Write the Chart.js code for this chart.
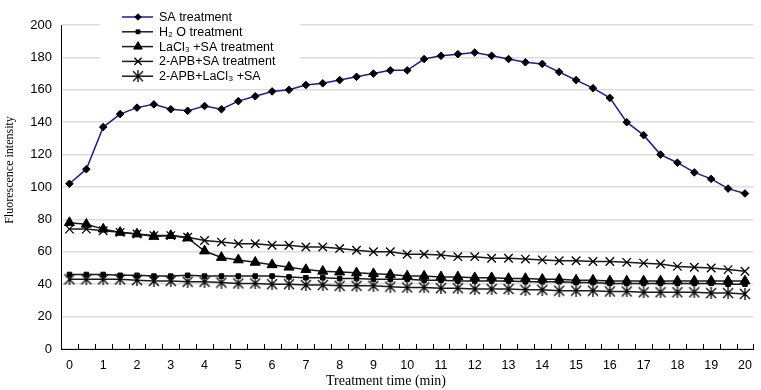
<!DOCTYPE html>
<html><head><meta charset="utf-8">
<script src="https://cdn.jsdelivr.net/npm/chart.js@4.4.1/dist/chart.umd.min.js"></script>
<style>html,body{margin:0;padding:0;background:#fff;}#wrap{width:761px;height:390px;position:relative;}</style>
</head><body><div id="wrap"><canvas id="c" width="761" height="390"></canvas></div>
<script>
// Categories: treatment time (min)
const times = [0,0.5,1,1.5,2,2.5,3,3.5,4,4.5,5,5.5,6,6.5,7,7.5,8,8.5,9,9.5,10,10.5,11,11.5,12,12.5,13,13.5,14,14.5,15,15.5,16,16.5,17,17.5,18,18.5,19,19.5,20];

const seriesNames = ["SA treatment","H\u2082 O treatment","LaCl\u2083 +SA treatment","2-APB+SA treatment","2-APB+LaCl\u2083 +SA"];
const xTitle = "Treatment time (min)";
const yTitle = "Fluorescence intensity";

const saTreatment = [102,111,137,145,149,151,148,147,150,148,153,156,159,160,163,164,166,168,170,172,172,179,181,182,183,181,179,177,176,171,166,161,155,140,132,120,115,109,105,99,96];
const h2oTreatment = [46,46,46,45.5,45.5,45,45,45.5,45,45,45,45,45,44.5,44,44,43.5,43.5,43,43,43,42.5,42.5,42,42,42,42,41.5,41.5,41.5,41,41,40.5,40.5,40.5,40.5,40.5,40.5,40.5,40,40];
const laclSaTreatment = [78,77,74,72,71,69.5,70,68.5,60.5,56.5,55,53.5,52,50.5,49,48,47.5,47,46.5,46,45,45,44.5,44.5,44,44,43.5,43.5,43,43,42.5,42.5,42,42,42,42,42,42,42,42,42];
const apbSaTreatment = [74,74,73,72,71,70,70,69,67,66,65,65,64,64,63,63,62,61,60,60,58.5,58.5,58,57,57,56,56,55.5,55,54.5,54.5,54,54,53.5,53,52.5,51,50.5,50,49,48];
const apbLaclSa = [43,43,43,43,42.5,42,42,41.5,41.5,41,40.5,40.5,40,40,39.5,39.5,39,39,39,38.5,38,38,37.5,37.5,37,37,37,36.5,36.5,36,36,36,35.5,35.5,35,35,35,35,34.5,34.5,34];

const yTicksMin = 0, yTicksMax = 200, yTickStep = 20;

function makeAsterisk(){
  const c = document.createElement('canvas');
  c.width = 12; c.height = 12;
  const g = c.getContext('2d');
  g.strokeStyle = '#000'; g.lineWidth = 1.3;
  g.beginPath();
  g.moveTo(1,1); g.lineTo(11,11);
  g.moveTo(11,1); g.lineTo(1,11);
  g.moveTo(6,0); g.lineTo(6,12);
  g.stroke();
  return c;
}
const asteriskImg = makeAsterisk();

const lineFont = 'Liberation Sans, Arial, sans-serif';
const serifFont = 'Liberation Serif, Times New Roman, serif';

const datasets = [
  {label: seriesNames[0], data: saTreatment, borderColor:'#1c1c9c', backgroundColor:'#000', pointStyle:'rectRot', pointRadius:3.8, pointBackgroundColor:'#000', pointBorderColor:'#000', pointBorderWidth:1, borderWidth:1.5},
  {label: seriesNames[1], data: h2oTreatment, borderColor:'#1a1a1a', backgroundColor:'#000', pointStyle:'rect', pointRadius:3.2, pointBackgroundColor:'#000', pointBorderColor:'#000', pointBorderWidth:1, borderWidth:1.5},
  {label: seriesNames[2], data: laclSaTreatment, borderColor:'#1a1a1a', backgroundColor:'#000', pointStyle:'triangle', pointRadius:5.8, pointBackgroundColor:'#000', pointBorderColor:'#000', pointBorderWidth:1, borderWidth:1.5},
  {label: seriesNames[3], data: apbSaTreatment, borderColor:'#1a1a1a', backgroundColor:'#000', pointStyle:'crossRot', pointRadius:6, pointBackgroundColor:'#000', pointBorderColor:'#000', pointBorderWidth:1.3, borderWidth:1.5},
  {label: seriesNames[4], data: apbLaclSa, borderColor:'#1a1a1a', backgroundColor:'#000', pointStyle:asteriskImg, pointRadius:5, pointBackgroundColor:'#000', pointBorderColor:'#000', pointBorderWidth:1, borderWidth:1.5}
];

const xTickMarks = {
  id:'xTickMarks',
  afterDraw(chart){
    const xs = chart.scales.x, ctx = chart.ctx;
    const bottom = chart.chartArea.bottom;
    ctx.save();
    ctx.strokeStyle = '#000'; ctx.lineWidth = 1;
    ctx.beginPath();
    for (let i = 0; i <= times.length; i++){
      const px = Math.round(xs.getPixelForValue(i - 0.5)) + 0.5;
      ctx.moveTo(px, bottom); ctx.lineTo(px, bottom - 5);
    }
    ctx.stroke();
    ctx.restore();
  }
};

const axisTitles = {
  id:'axisTitles',
  afterDraw(chart){
    const ctx = chart.ctx;
    ctx.save();
    ctx.fillStyle = '#000';
    ctx.textAlign = 'center'; ctx.textBaseline = 'middle';
    ctx.font = '14px ' + serifFont;
    ctx.fillText(xTitle, 386, 381);
    ctx.translate(10, 170);
    ctx.rotate(-Math.PI/2);
    ctx.font = '12px ' + serifFont;
    ctx.fillText(yTitle, 0, 0);
    ctx.restore();
  }
};

const customLegend = {
  id:'customLegend',
  afterDraw(chart){
    const ctx = chart.ctx;
    ctx.save();
    ctx.fillStyle = '#fff';
    ctx.fillRect(100, 0, 200, 85);
    chart.data.datasets.forEach((ds, i) => {
      const y = 17 + i * 14.8;
      ctx.strokeStyle = ds.borderColor; ctx.lineWidth = 1.5;
      ctx.beginPath(); ctx.moveTo(122, y); ctx.lineTo(153, y); ctx.stroke();
      ctx.fillStyle = '#000'; ctx.strokeStyle = '#000'; ctx.lineWidth = ds.pointBorderWidth;
      Chart.helpers.drawPoint(ctx, {pointStyle: ds.pointStyle, radius: ds.pointRadius * 0.85, rotation: 0, borderWidth: ds.pointBorderWidth}, 138, y);
      ctx.fillStyle = '#000';
      ctx.font = '12.5px ' + lineFont;
      ctx.textBaseline = 'middle'; ctx.textAlign = 'left';
      ctx.fillText(ds.label, 159, y + 0.5);
    });
    ctx.restore();
  }
};

new Chart(document.getElementById('c'), {
  type:'line',
  data:{ labels: times.map(String), datasets },
  options:{
    responsive:false, animation:false, devicePixelRatio:1,
    layout:{ padding:{ top:25, right:1, left:0, bottom:0 } },
    plugins:{ legend:{display:false}, tooltip:{enabled:false} },
    elements:{ line:{ tension:0 } },
    scales:{
      x:{
        type:'category', offset:true,
        grid:{ drawOnChartArea:false, drawTicks:false },
        border:{ display:true, color:'#000', width:1 },
        ticks:{ autoSkip:false, maxRotation:0, minRotation:0, color:'#000', font:{family:lineFont, size:12.5}, padding:9,
          callback:(v,i) => Number.isInteger(times[i]) ? String(times[i]) : '' },
        title:{ display:false },
        afterFit:(s) => { s.height = 41; }
      },
      y:{
        min:yTicksMin, max:yTicksMax,
        ticks:{ stepSize:yTickStep, color:'#000', font:{family:lineFont, size:13}, padding:9 },
        grid:{ color:'#dcdcdc', lineWidth:1.5, drawTicks:false },
        border:{ display:true, color:'#000', width:1 },
        title:{ display:false },
        afterFit:(s) => { s.width = 61; }
      }
    }
  },
  plugins:[xTickMarks, axisTitles, customLegend]
});
</script>
</body></html>
